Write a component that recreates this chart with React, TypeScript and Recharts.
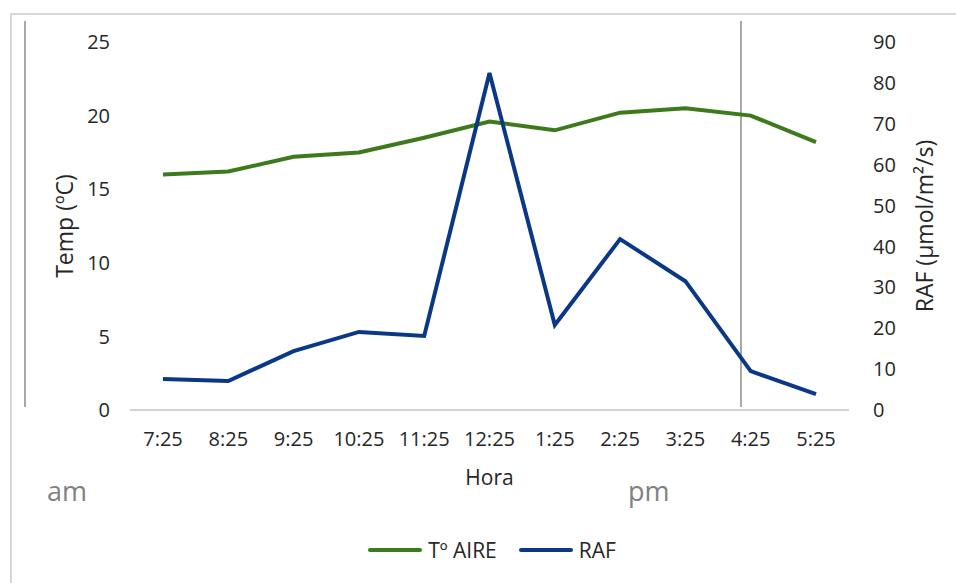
import React from 'react';
import { ComposedChart, Line, XAxis, YAxis, Legend, Label } from 'recharts';

// hourly readings
const horas = ['7:25', '8:25', '9:25', '10:25', '11:25', '12:25', '1:25', '2:25', '3:25', '4:25', '5:25'];
const tempAire = [16.0, 16.2, 17.2, 17.5, 18.5, 19.6, 19.0, 20.2, 20.5, 20.0, 18.2];
const raf = [7.6, 7.1, 14.4, 19.1, 18.1, 82.4, 20.8, 41.8, 31.5, 9.5, 3.9];

const tempTicks = [0, 5, 10, 15, 20, 25];
const rafTicks = [0, 10, 20, 30, 40, 50, 60, 70, 80, 90];

const legendOrder = ['Tº AIRE', 'RAF'];

const GREEN = '#3c7a1c';
const BLUE = '#0b3787';
const TEXT = '#262626';

const data = horas.map((hora, i) => ({ hora, temp: tempAire[i], raf: raf[i] }));

const tick = { fill: TEXT, fontSize: 20 };
const titleStyle = { fontSize: 21, fill: TEXT, textAnchor: 'middle' as const };
const yTitleStyle = { ...titleStyle, fontSize: 23 };

const renderLegend = (props: any) => {
  const items = [...(props.payload || [])].sort(
    (a: any, b: any) => legendOrder.indexOf(a.value) - legendOrder.indexOf(b.value)
  );
  return (
    <div style={{ display: 'flex', justifyContent: 'center', alignItems: 'center', gap: 22 }}>
      {items.map((item: any) => (
        <div key={item.value} style={{ display: 'flex', alignItems: 'center', gap: 6 }}>
          <span style={{ display: 'inline-block', width: 54, height: 4, borderRadius: 2, background: item.color }} />
          <span style={{ fontSize: 21, color: TEXT }}>{item.value}</span>
        </div>
      ))}
    </div>
  );
};

export default function App() {
  return (
    <div
      style={{
        position: 'absolute',
        left: 0,
        top: 0,
        width: 956,
        height: 583,
        overflow: 'hidden',
        background: '#fff',
        fontFamily: '"Open Sans", sans-serif',
      }}
    >
      {/* frame */}
      <div style={{ position: 'absolute', left: 10, top: 13, width: 980, height: 620, border: '2px solid #d6d6d6' }} />
      {/* hand-drawn dividers */}
      <div style={{ position: 'absolute', left: 24, top: 21, width: 2, height: 386, background: '#a8a8a8' }} />
      <div style={{ position: 'absolute', left: 740, top: 21, width: 1.5, height: 386, background: '#a8a8a8' }} />
      <div style={{ position: 'absolute', left: 47, top: 472, fontSize: 27, color: '#808080' }}>am</div>
      <div style={{ position: 'absolute', left: 628, top: 472, fontSize: 27, color: '#808080' }}>pm</div>

      <ComposedChart
        width={956}
        height={583}
        data={data}
        margin={{ top: 42, right: 47, left: 70, bottom: 133 }}
        style={{ position: 'absolute', left: 0, top: 0 }}
      >
        <XAxis
          dataKey="hora"
          height={40}
          tick={tick}
          tickLine={false}
          tickSize={0}
          tickMargin={22}
          axisLine={{ stroke: '#c4c4c4', strokeWidth: 1.5 }}
          interval={0}
          padding={{ left: 33, right: 33 }}
        >
          <Label value="Hora" position="bottom" offset={20} style={titleStyle} />
        </XAxis>
        <YAxis
          yAxisId="left"
          orientation="left"
          width={60}
          domain={[0, 25]}
          ticks={tempTicks}
          tick={tick}
          tickLine={false}
          axisLine={false}
          tickSize={0}
          tickMargin={20}
        >
          <Label value="Temp (ºC)" angle={-90} position="left" offset={5} style={yTitleStyle} />
        </YAxis>
        <YAxis
          yAxisId="right"
          orientation="right"
          width={60}
          domain={[0, 90]}
          ticks={rafTicks}
          tick={tick}
          tickLine={false}
          axisLine={false}
          tickSize={0}
          tickMargin={24}
        >
          <Label value="RAF (µmol/m²/s)" angle={-90} position="right" offset={16} style={yTitleStyle} />
        </YAxis>
        <Legend
          layout="horizontal"
          verticalAlign="middle"
          align="center"
          content={renderLegend}
          wrapperStyle={{ top: 536, left: 14, width: 956 }}
        />
        <Line
          yAxisId="left"
          type="linear"
          dataKey="temp"
          name="Tº AIRE"
          stroke={GREEN}
          strokeWidth={4}
          dot={false}
          isAnimationActive={false}
        />
        <Line
          yAxisId="right"
          type="linear"
          dataKey="raf"
          name="RAF"
          stroke={BLUE}
          strokeWidth={4}
          dot={false}
          isAnimationActive={false}
        />
      </ComposedChart>
    </div>
  );
}
